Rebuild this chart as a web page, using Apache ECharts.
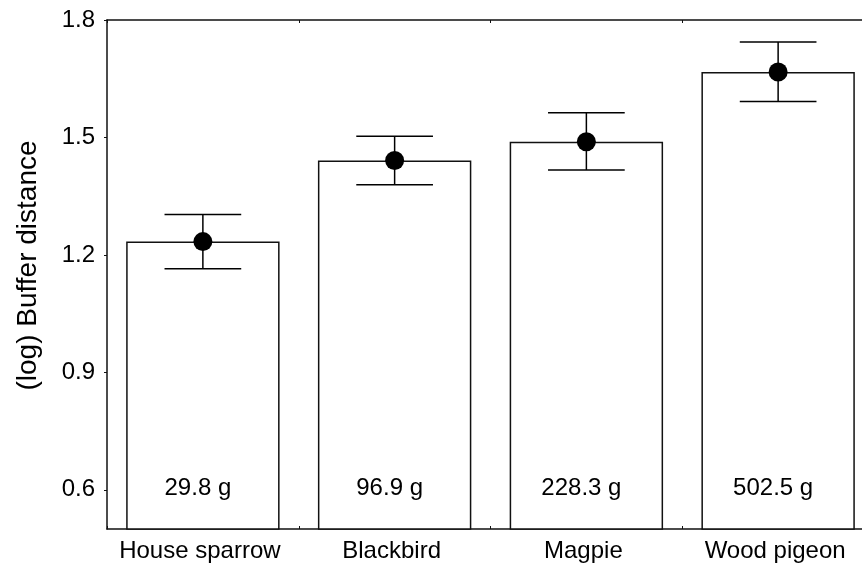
<!DOCTYPE html>
<html>
<head>
<meta charset="utf-8">
<script src="https://cdn.jsdelivr.net/npm/echarts@6/dist/echarts.min.js"></script>
<style>
  html, body { margin: 0; padding: 0; background: #fff; overflow: hidden; }
  /* plot runs past the right edge of the window, as in the cropped original */
  #chart { width: 874px; height: 567px; }
</style>
</head>
<body>
<div id="chart"></div>
<script>
// species and values
var species = ['House sparrow', 'Blackbird', 'Magpie', 'Wood pigeon'];
var masses = ['29.8 g', '96.9 g', '228.3 g', '502.5 g'];
var means = [1.234, 1.441, 1.489, 1.667];
var upper = [1.303, 1.503, 1.563, 1.744];
var lower = [1.165, 1.379, 1.417, 1.592];
var yTicks = [0.6, 0.9, 1.2, 1.5, 1.8];

var font = 'Liberation Sans, Arial, sans-serif';
var ink = '#111';

var errData = species.map(function (s, i) { return [i, upper[i], lower[i]]; });

var chart = echarts.init(document.getElementById('chart'));
chart.setOption({
  animation: false,
  textStyle: { fontFamily: font, color: '#000' },
  grid: { left: 107, top: 20, right: 0, bottom: 38 },
  xAxis: [
    {
      type: 'category',
      data: species,
      position: 'bottom',
      axisLine: { lineStyle: { color: ink, width: 1.5 } },
      axisTick: { show: true, inside: true, length: 3, lineStyle: { color: ink } },
      axisLabel: { interval: 0, fontSize: 24, color: '#000', margin: 10, fontFamily: font, padding: [0, 6, 0, 0] }
    },
    {
      type: 'category',
      data: species,
      position: 'top',
      axisLine: { lineStyle: { color: ink, width: 1.5 } },
      axisTick: { show: true, inside: true, length: 3, lineStyle: { color: ink } },
      axisLabel: { show: false }
    }
  ],
  yAxis: {
    type: 'value',
    min: 0.5,
    max: 1.8,
    name: '(log) Buffer distance',
    nameLocation: 'middle',
    nameGap: 65,
    nameTextStyle: { fontSize: 28, color: '#000', fontFamily: font, padding: [0, 0, 0, 18] },
    splitLine: { show: false },
    axisLine: { show: true, lineStyle: { color: ink, width: 1.5 } },
    axisTick: { show: true, length: 3, customValues: yTicks, lineStyle: { color: ink } },
    axisLabel: {
      fontSize: 24, color: '#000', margin: 12, fontFamily: font,
      customValues: yTicks,
      formatter: function (v) { return v.toFixed(1); }
    }
  },
  series: [
    {
      type: 'bar',
      data: means,
      barWidth: '80%',
      itemStyle: { color: '#fff', borderColor: ink, borderWidth: 1.5 },
      label: {
        show: true,
        position: 'insideBottom',
        distance: 29,
        offset: [-5, 0],
        fontSize: 24,
        color: '#000',
        fontFamily: font,
        formatter: function (p) { return masses[p.dataIndex]; }
      },
      z: 2
    },
    {
      type: 'custom',
      data: errData,
      renderItem: function (params, api) {
        var x = api.value(0);
        var hi = api.coord([x, api.value(1)]);
        var lo = api.coord([x, api.value(2)]);
        var half = api.size([1, 0])[0] * 0.2;
        var st = { stroke: '#000', lineWidth: 1.5 };
        return {
          type: 'group',
          children: [
            { type: 'line', shape: { x1: hi[0], y1: hi[1], x2: lo[0], y2: lo[1] }, style: st },
            { type: 'line', shape: { x1: hi[0] - half, y1: hi[1], x2: hi[0] + half, y2: hi[1] }, style: st },
            { type: 'line', shape: { x1: lo[0] - half, y1: lo[1], x2: lo[0] + half, y2: lo[1] }, style: st }
          ]
        };
      },
      z: 3
    },
    {
      type: 'scatter',
      data: means,
      symbol: 'circle',
      symbolSize: 19,
      itemStyle: { color: '#000', opacity: 1 },
      z: 4
    }
  ]
});
</script>
</body>
</html>
